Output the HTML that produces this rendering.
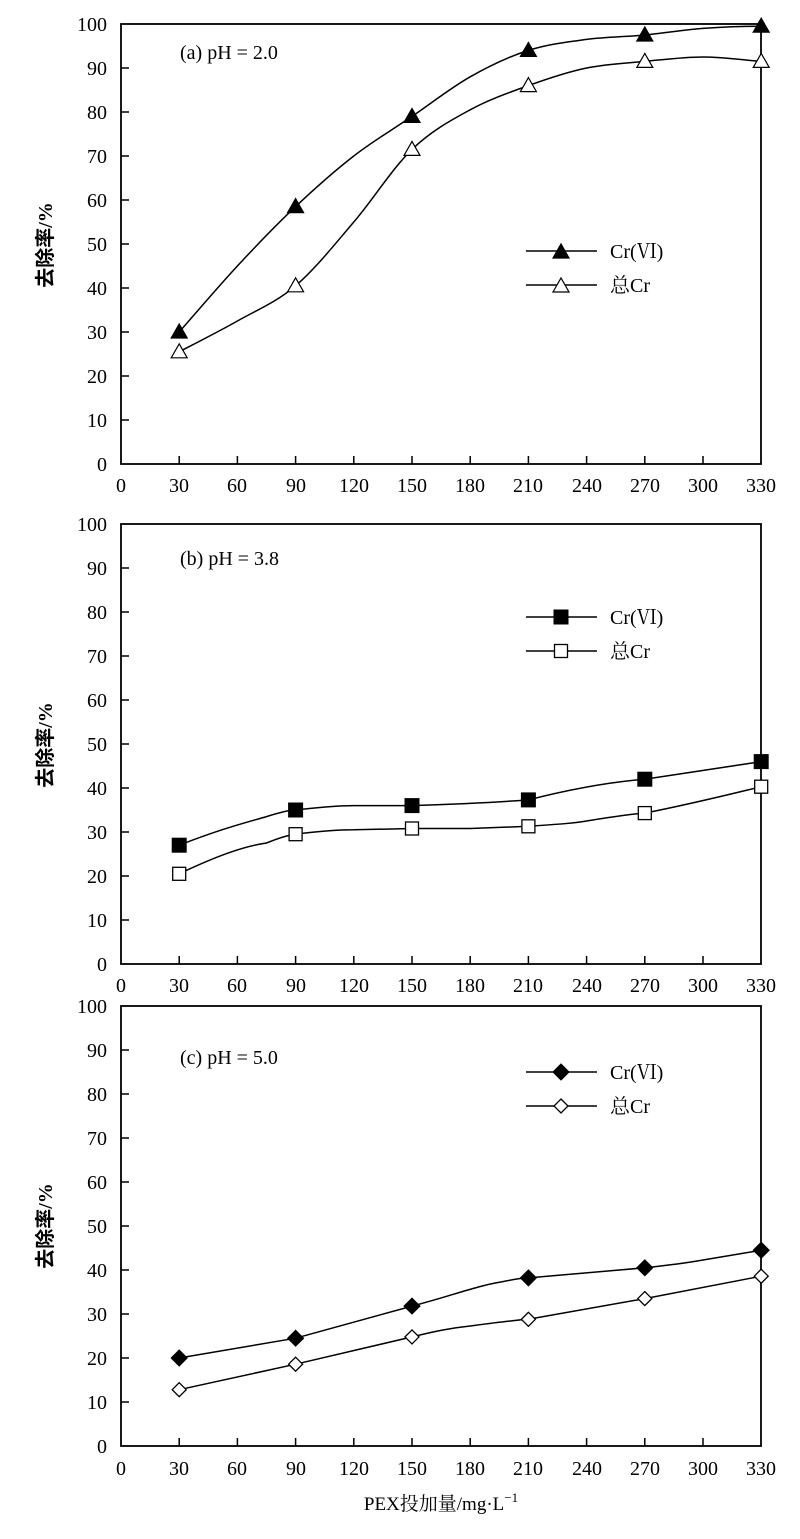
<!DOCTYPE html>
<html><head><meta charset="utf-8"><style>
body{margin:0;background:#fff}
svg{display:block}
text{font-family:"Liberation Serif","Noto Serif CJK SC",serif;font-size:20px;fill:#000}
.yt{text-anchor:end}
.xt{text-anchor:middle}
.yl{font-family:"Liberation Serif","Noto Sans CJK SC",sans-serif;font-size:20px;font-weight:bold}
</style></head><body>
<svg width="800" height="1539" viewBox="0 0 800 1539" xmlns="http://www.w3.org/2000/svg">
<defs>
<path id="tf" d="M-8,6 L0,-8 L8,6 Z" fill="#000" stroke="#000" stroke-width="1.2"/>
<path id="to" d="M-8,6 L0,-8 L8,6 Z" fill="#fff" stroke="#000" stroke-width="1.2"/>
<rect id="sf" x="-7" y="-7" width="14" height="14" fill="#000" stroke="#000"/>
<rect id="so" x="-6.5" y="-6.5" width="13" height="13" fill="#fff" stroke="#000" stroke-width="1.3"/>
<path id="df" d="M0,-8 L8,0 L0,8 L-8,0 Z" fill="#000" stroke="#000"/>
<path id="do" d="M0,-7 L7,0 L0,7 L-7,0 Z" fill="#fff" stroke="#000" stroke-width="1.3"/>
<g id="axes">
<rect x="0" y="0" width="640" height="440" fill="none" stroke="#000" stroke-width="1.8"/>
<path d="M0,396h8M0,352h8M0,308h8M0,264h8M0,220h8M0,176h8M0,132h8M0,88h8M0,44h8
M58.2,440v-8M116.4,440v-8M174.6,440v-8M232.8,440v-8M291,440v-8M349.2,440v-8M407.4,440v-8M465.6,440v-8M523.8,440v-8M582,440v-8" stroke="#000" stroke-width="1.5"/>
</g>
</defs>

<!-- Panel a -->
<g transform="translate(121,24)">
<use href="#axes"/>
<path d="M58.2,308 C67.9,297 97,262.9 116.4,242 C135.8,221.1 155.2,200.9 174.6,182.6 C194,164.3 213.4,147 232.8,132 C252.2,117 271.6,105.6 291,92.4 C310.4,79.2 329.8,63.8 349.2,52.8 C368.6,41.8 388,32.6 407.4,26.4 C426.8,20.2 446.2,18 465.6,15.4 C485,12.8 504.4,12.8 523.8,11 C543.2,9.2 562.6,5.9 582,4.4 C601.4,2.9 620.8,2.2 640.2,2.2" fill="none" stroke="#000" stroke-width="1.5"/>
<path d="M58.2,327.8 C67.9,322.7 97,308 116.4,297 C135.8,286 155.2,278.3 174.6,261.8 C194,245.3 213.4,220.7 232.8,198 C252.2,175.3 271.6,144.1 291,125.4 C310.4,106.7 329.8,96.4 349.2,85.8 C368.6,75.2 388,68.6 407.4,61.6 C426.8,54.6 446.2,48 465.6,44 C485,40 504.4,39.2 523.8,37.4 C543.2,35.6 562.6,33 582,33 C601.4,33 620.8,35.9 640.2,37.4" fill="none" stroke="#000" stroke-width="1.5"/>
<use href="#tf" x="58.2" y="308"/><use href="#tf" x="174.6" y="182.6"/><use href="#tf" x="291" y="92.4"/><use href="#tf" x="407.4" y="26.4"/><use href="#tf" x="523.8" y="11"/><use href="#tf" x="640.2" y="2.2"/>
<use href="#to" x="58.2" y="327.8"/><use href="#to" x="174.6" y="261.8"/><use href="#to" x="291" y="125.4"/><use href="#to" x="407.4" y="61.6"/><use href="#to" x="523.8" y="37.4"/><use href="#to" x="640.2" y="37.4"/>
<text x="59" y="35">(a) pH = 2.0</text>
<path d="M405,227h71M405,261h71" stroke="#000" stroke-width="1.5"/>
<use href="#tf" x="440" y="228"/><use href="#to" x="440" y="262"/>
<text x="489" y="234">Cr(Ⅵ)</text><text x="489" y="268">总Cr</text>
</g>

<!-- Panel b -->
<g transform="translate(121,524)">
<use href="#axes"/>
<path d="M58.2,321.2 C100,305 120,300 145.5,292.6 C160,288 168,286 174.6,286 C200,283 215,281.6 232.8,281.6 L291,281.6 C340,280 380,278 407.4,275.9 C450,265 490,258 523.8,255.2 L640.2,237.6" fill="none" stroke="#000" stroke-width="1.5"/>
<path d="M58.2,349.8 C100,330 125,322 145.5,319 C160,313 168,311 174.6,310.2 C200,307 215,305.8 232.8,305.8 L291,304.5 L349.2,304.5 L407.4,302.3 C440,300 455,299 465.6,297 C490,293 510,290 523.8,289.1 C570,280 610,270 640.2,262.7" fill="none" stroke="#000" stroke-width="1.5"/>
<use href="#sf" x="58.2" y="321.2"/><use href="#sf" x="174.6" y="286"/><use href="#sf" x="291" y="281.6"/><use href="#sf" x="407.4" y="275.9"/><use href="#sf" x="523.8" y="255.2"/><use href="#sf" x="640.2" y="237.6"/>
<use href="#so" x="58.2" y="349.8"/><use href="#so" x="174.6" y="310.2"/><use href="#so" x="291" y="304.5"/><use href="#so" x="407.4" y="302.3"/><use href="#so" x="523.8" y="289.1"/><use href="#so" x="640.2" y="262.7"/>
<text x="59" y="41">(b) pH = 3.8</text>
<path d="M405,93h71M405,127h71" stroke="#000" stroke-width="1.5"/>
<use href="#sf" x="440" y="93"/><use href="#so" x="440" y="127"/>
<text x="489" y="100">Cr(Ⅵ)</text><text x="489" y="134">总Cr</text>
</g>

<!-- Panel c -->
<g transform="translate(121,1006)">
<use href="#axes"/>
<path d="M58.2,352 L174.6,332.2 L291,300.1 C330,290 355,280 380,276 C395,273 400,272 407.4,271.9 L523.8,261.8 C550,259 565,257 582,254 L640.2,244.2" fill="none" stroke="#000" stroke-width="1.5"/>
<path d="M58.2,383.7 L174.6,358.2 L291,330.9 C315,325 330,322 349.2,320 C380,316 395,314 407.4,313.3 L523.8,292.6 L640.2,270.2" fill="none" stroke="#000" stroke-width="1.5"/>
<use href="#df" x="58.2" y="352"/><use href="#df" x="174.6" y="332.2"/><use href="#df" x="291" y="300.1"/><use href="#df" x="407.4" y="271.9"/><use href="#df" x="523.8" y="261.8"/><use href="#df" x="640.2" y="244.2"/>
<use href="#do" x="58.2" y="383.7"/><use href="#do" x="174.6" y="358.2"/><use href="#do" x="291" y="330.9"/><use href="#do" x="407.4" y="313.3"/><use href="#do" x="523.8" y="292.6"/><use href="#do" x="640.2" y="270.2"/>
<text x="59" y="58">(c) pH = 5.0</text>
<path d="M405,66h71M405,100h71" stroke="#000" stroke-width="1.5"/>
<use href="#df" x="440" y="66"/><use href="#do" x="440" y="100"/>
<text x="489" y="73">Cr(Ⅵ)</text><text x="489" y="107">总Cr</text>
</g>

<!-- Y tick labels -->
<g>
<text class="yt" x="107" y="31">100</text><text class="yt" x="107" y="75">90</text><text class="yt" x="107" y="119">80</text><text class="yt" x="107" y="163">70</text><text class="yt" x="107" y="207">60</text><text class="yt" x="107" y="251">50</text><text class="yt" x="107" y="295">40</text><text class="yt" x="107" y="339">30</text><text class="yt" x="107" y="383">20</text><text class="yt" x="107" y="427">10</text><text class="yt" x="107" y="471">0</text>
<text class="yt" x="107" y="531">100</text><text class="yt" x="107" y="575">90</text><text class="yt" x="107" y="619">80</text><text class="yt" x="107" y="663">70</text><text class="yt" x="107" y="707">60</text><text class="yt" x="107" y="751">50</text><text class="yt" x="107" y="795">40</text><text class="yt" x="107" y="839">30</text><text class="yt" x="107" y="883">20</text><text class="yt" x="107" y="927">10</text><text class="yt" x="107" y="971">0</text>
<text class="yt" x="107" y="1013">100</text><text class="yt" x="107" y="1057">90</text><text class="yt" x="107" y="1101">80</text><text class="yt" x="107" y="1145">70</text><text class="yt" x="107" y="1189">60</text><text class="yt" x="107" y="1233">50</text><text class="yt" x="107" y="1277">40</text><text class="yt" x="107" y="1321">30</text><text class="yt" x="107" y="1365">20</text><text class="yt" x="107" y="1409">10</text><text class="yt" x="107" y="1453">0</text>
</g>

<!-- X tick labels -->
<g>
<text class="xt" x="121" y="492">0</text><text class="xt" x="179" y="492">30</text><text class="xt" x="237" y="492">60</text><text class="xt" x="296" y="492">90</text><text class="xt" x="354" y="492">120</text><text class="xt" x="412" y="492">150</text><text class="xt" x="470" y="492">180</text><text class="xt" x="528" y="492">210</text><text class="xt" x="587" y="492">240</text><text class="xt" x="645" y="492">270</text><text class="xt" x="703" y="492">300</text><text class="xt" x="761" y="492">330</text>
<text class="xt" x="121" y="992">0</text><text class="xt" x="179" y="992">30</text><text class="xt" x="237" y="992">60</text><text class="xt" x="296" y="992">90</text><text class="xt" x="354" y="992">120</text><text class="xt" x="412" y="992">150</text><text class="xt" x="470" y="992">180</text><text class="xt" x="528" y="992">210</text><text class="xt" x="587" y="992">240</text><text class="xt" x="645" y="992">270</text><text class="xt" x="703" y="992">300</text><text class="xt" x="761" y="992">330</text>
<text class="xt" x="121" y="1475">0</text><text class="xt" x="179" y="1475">30</text><text class="xt" x="237" y="1475">60</text><text class="xt" x="296" y="1475">90</text><text class="xt" x="354" y="1475">120</text><text class="xt" x="412" y="1475">150</text><text class="xt" x="470" y="1475">180</text><text class="xt" x="528" y="1475">210</text><text class="xt" x="587" y="1475">240</text><text class="xt" x="645" y="1475">270</text><text class="xt" x="703" y="1475">300</text><text class="xt" x="761" y="1475">330</text>
</g>

<!-- Axis titles -->
<text class="yl" transform="translate(52,245) rotate(-90)" text-anchor="middle">去除率/%</text>
<text class="yl" transform="translate(52,745) rotate(-90)" text-anchor="middle">去除率/%</text>
<text class="yl" transform="translate(52,1226) rotate(-90)" text-anchor="middle">去除率/%</text>
<text x="441" y="1510" text-anchor="middle" style="font-size:19px">PEX投加量/mg·L<tspan dy="-8" font-size="13">−1</tspan></text>
</svg>
</body></html>
